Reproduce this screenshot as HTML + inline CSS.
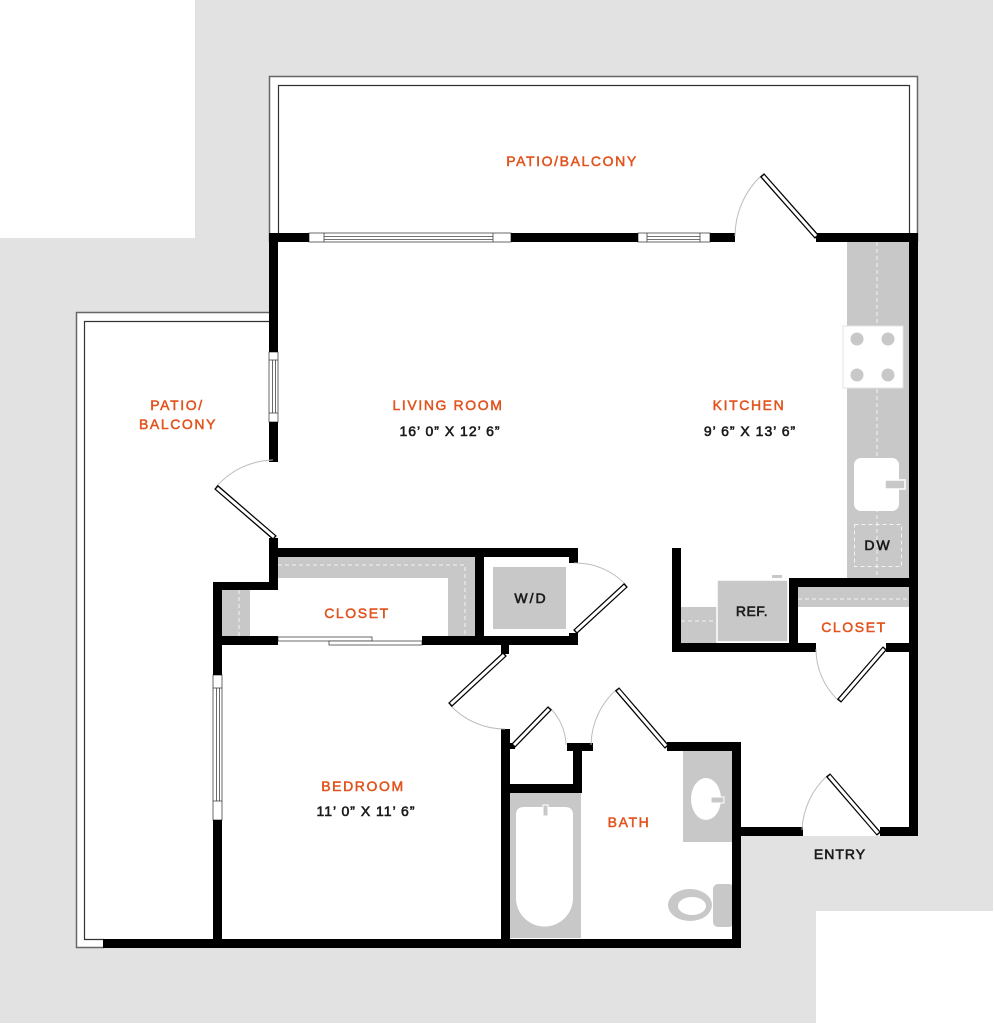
<!DOCTYPE html>
<html><head><meta charset="utf-8"><style>
html,body{margin:0;padding:0;background:#fff;}
svg{display:block;}
.o{font-family:"Liberation Sans",sans-serif;font-size:14px;fill:#e2531d;stroke:#e2531d;stroke-width:0.5;letter-spacing:1.6px;text-anchor:middle;}
.k{font-family:"Liberation Sans",sans-serif;font-size:14px;fill:#1a1a1a;stroke:#1a1a1a;stroke-width:0.6;letter-spacing:1px;text-anchor:middle;}
</style></head><body>
<svg width="994" height="1024" viewBox="0 0 994 1024" xmlns="http://www.w3.org/2000/svg">
<rect width="994" height="1024" fill="#fff"/>
<path d="M195 0 H993 V911 H816 V1023 H0 V238 H195 Z" fill="#e2e2e2"/>
<path d="M269 76 H918 V836 H741 V948 H76 V312 H269 Z" fill="#fff"/>

<!-- patio outlines -->
<g fill="none">
<polyline points="269.5,242 269.5,76.5 917.5,76.5 917.5,242" stroke="#666" stroke-width="1.5"/>
<polyline points="278.5,233 278.5,85.5 909.5,85.5 909.5,233" stroke="#333" stroke-width="1.2"/>
<polyline points="269,312.5 76.5,312.5 76.5,947.5 104,947.5" stroke="#666" stroke-width="1.5"/>
<polyline points="269,321.5 84.5,321.5 84.5,939.5 104,939.5" stroke="#333" stroke-width="1.2"/>
</g>

<!-- fixtures -->
<g fill="#c8c8c8">
<rect x="847" y="242" width="62" height="336"/>
<rect x="798" y="587" width="111" height="20"/>
<rect x="681" y="607" width="36" height="36"/>
<path d="M278 557 H475 V636 H448 V578 H278 Z"/>
<rect x="222" y="590" width="28" height="46"/>
<rect x="510" y="793" width="71" height="145"/>
<rect x="683" y="751" width="49" height="91"/>
<rect x="493" y="567" width="73" height="62"/>
</g>
<g stroke="#f4f4f4" stroke-width="1" stroke-dasharray="4 3" fill="none">
<line x1="877" y1="242" x2="877" y2="578"/>
<line x1="798" y1="599" x2="909" y2="599"/>
<line x1="681" y1="621" x2="717" y2="621"/>
<path d="M278 565 H465 V636"/>
<line x1="239" y1="590" x2="239" y2="636"/>
<rect x="854.5" y="524.5" width="47" height="42"/>
</g>
<!-- stove -->
<rect x="843" y="326" width="60" height="62" fill="#fff" stroke="#e4e4e4" stroke-width="1"/>
<g fill="#c8c8c8">
<circle cx="857" cy="339" r="6.5"/><circle cx="888" cy="339" r="6.5"/>
<circle cx="857" cy="375" r="6.5"/><circle cx="888" cy="375" r="6.5"/>
</g>
<!-- sink -->
<rect x="854" y="458" width="45" height="53" rx="7" fill="#fff"/>
<rect x="885" y="480" width="20" height="9" fill="#c8c8c8" stroke="#fff" stroke-width="1.5"/>
<!-- ref -->
<rect x="717" y="580" width="71" height="62" fill="#c8c8c8" stroke="#fff" stroke-width="1.5"/>
<rect x="772" y="575" width="10" height="3" fill="#c8c8c8"/>
<!-- tub -->
<path d="M516 815 Q516 807 524 807 H565 Q573 807 573 815 V898 A28.5 28.5 0 0 1 516 898 Z" fill="#fff"/>
<rect x="543" y="805" width="5" height="11" fill="#c8c8c8" stroke="#fff" stroke-width="1"/>
<!-- vanity sink -->
<ellipse cx="706" cy="799" rx="15" ry="21" fill="#fff"/>
<rect x="711" y="797" width="13" height="6" fill="#c8c8c8" stroke="#fff" stroke-width="1"/>
<!-- toilet -->
<rect x="713" y="884" width="21" height="43" rx="5" fill="#c8c8c8"/>
<ellipse cx="690" cy="905" rx="22" ry="16" fill="#c8c8c8"/>
<ellipse cx="692" cy="906" rx="14" ry="9" fill="#fff"/>

<!-- windows -->
<g fill="#fff" stroke="#444" stroke-width="0.8">
<rect x="309" y="233" width="202" height="9"/>
<line x1="324" y1="233" x2="324" y2="242"/><line x1="493" y1="233" x2="493" y2="242"/>
<line x1="324" y1="236.5" x2="493" y2="236.5"/><line x1="324" y1="239.5" x2="493" y2="239.5"/>
<rect x="638" y="233" width="72" height="9"/>
<line x1="647" y1="233" x2="647" y2="242"/><line x1="700" y1="233" x2="700" y2="242"/>
<line x1="647" y1="236.5" x2="700" y2="236.5"/><line x1="647" y1="239.5" x2="700" y2="239.5"/>
<rect x="269" y="352" width="9" height="70"/>
<line x1="269" y1="360" x2="278" y2="360"/><line x1="269" y1="413" x2="278" y2="413"/>
<line x1="272.5" y1="360" x2="272.5" y2="413"/><line x1="275.5" y1="360" x2="275.5" y2="413"/>
<rect x="213" y="675" width="9" height="145"/>
<line x1="213" y1="688" x2="222" y2="688"/><line x1="213" y1="801" x2="222" y2="801"/>
<line x1="216.5" y1="688" x2="216.5" y2="801"/><line x1="219.5" y1="688" x2="219.5" y2="801"/>
<!-- sliding closet doors -->
<rect x="278" y="637" width="94" height="4"/>
<rect x="329" y="641" width="93" height="4"/>
</g>

<!-- walls -->
<g fill="#000">
<rect x="269" y="233" width="40" height="9"/>
<rect x="511" y="233" width="127" height="9"/>
<rect x="710" y="233" width="25" height="9"/>
<rect x="816" y="233" width="102" height="9"/>
<rect x="909" y="233" width="9" height="603"/>
<rect x="269" y="233" width="9" height="119"/>
<rect x="269" y="422" width="9" height="40"/>
<rect x="269" y="538" width="9" height="52"/>
<rect x="213" y="582" width="65" height="8"/>
<rect x="213" y="582" width="9" height="93"/>
<rect x="213" y="820" width="9" height="128"/>
<rect x="103" y="939" width="638" height="9"/>
<rect x="269" y="548" width="309" height="9"/>
<rect x="569" y="548" width="9" height="15"/>
<rect x="569" y="633" width="9" height="12"/>
<rect x="213" y="636" width="65" height="9"/>
<rect x="422" y="636" width="156" height="9"/>
<rect x="475" y="548" width="9" height="97"/>
<rect x="501" y="645" width="8" height="9"/>
<rect x="501" y="729" width="9" height="219"/>
<rect x="509" y="743" width="6" height="6"/>
<rect x="567" y="743" width="26" height="8"/>
<rect x="573" y="743" width="9" height="50"/>
<rect x="501" y="784" width="81" height="9"/>
<rect x="667" y="742" width="74" height="9"/>
<rect x="732" y="742" width="9" height="206"/>
<rect x="732" y="827" width="71" height="9"/>
<rect x="880" y="827" width="38" height="9"/>
<rect x="672" y="548" width="9" height="104"/>
<rect x="672" y="643" width="144" height="9"/>
<rect x="789" y="578" width="129" height="9"/>
<rect x="789" y="578" width="9" height="74"/>
<rect x="886" y="643" width="32" height="9"/>
</g>

<!-- door arcs -->
<g fill="none" stroke="#bdbdbd" stroke-width="1">
<path d="M762 175 A83 83 0 0 0 735 236"/>
<path d="M216 487 A78 78 0 0 1 273 460"/>
<path d="M626 585 A69 69 0 0 0 574 563"/>
<path d="M450 705 A75 75 0 0 0 505 729"/>
<path d="M550 708 A53 53 0 0 1 566 745"/>
<path d="M617 689 A76 76 0 0 0 591 745"/>
<path d="M839 701 A70 70 0 0 1 816 649"/>
<path d="M828 775 A78 78 0 0 0 802 830"/>
</g>
<!-- door leaves -->
<g stroke-linecap="butt">
<g stroke="#000" stroke-width="5.5">
<line x1="817" y1="237" x2="762" y2="175"/>
<line x1="275" y1="538" x2="216" y2="487"/>
<line x1="575" y1="632" x2="626" y2="585"/>
<line x1="505" y1="654" x2="450" y2="705"/>
<line x1="513" y1="746" x2="550" y2="708"/>
<line x1="667" y1="747" x2="617" y2="689"/>
<line x1="885" y1="648" x2="839" y2="701"/>
<line x1="879" y1="834" x2="828" y2="775"/>
</g>
<g stroke="#fff" stroke-width="3">
<line x1="816" y1="236" x2="763" y2="176"/>
<line x1="274" y1="537" x2="217" y2="488"/>
<line x1="576" y1="631" x2="625" y2="586"/>
<line x1="504" y1="655" x2="451" y2="704"/>
<line x1="514" y1="745" x2="549" y2="709"/>
<line x1="666" y1="746" x2="618" y2="690"/>
<line x1="884" y1="649" x2="840" y2="700"/>
<line x1="878" y1="833" x2="829" y2="776"/>
</g>
</g>

<!-- labels -->
<text class="o" x="572" y="166">PATIO/BALCONY</text>
<text class="o" x="448" y="410">LIVING ROOM</text>
<text class="k" x="450" y="436">16’ 0” X 12’ 6”</text>
<text class="o" x="749" y="410">KITCHEN</text>
<text class="k" x="750" y="436">9’ 6” X 13’ 6”</text>
<text class="o" x="177" y="410">PATIO/</text>
<text class="o" x="178" y="429">BALCONY</text>
<text class="o" x="357" y="618">CLOSET</text>
<text class="k" x="531" y="603" style="letter-spacing:2px">W/D</text>
<text class="k" x="752" y="616" style="letter-spacing:0.5px">REF.</text>
<text class="k" x="878" y="550" style="letter-spacing:2px">DW</text>
<text class="o" x="854" y="632">CLOSET</text>
<text class="o" x="629" y="827">BATH</text>
<text class="k" x="840" y="859">ENTRY</text>
<text class="o" x="363" y="791">BEDROOM</text>
<text class="k" x="366" y="816">11’ 0” X 11’ 6”</text>
</svg>
</body></html>
